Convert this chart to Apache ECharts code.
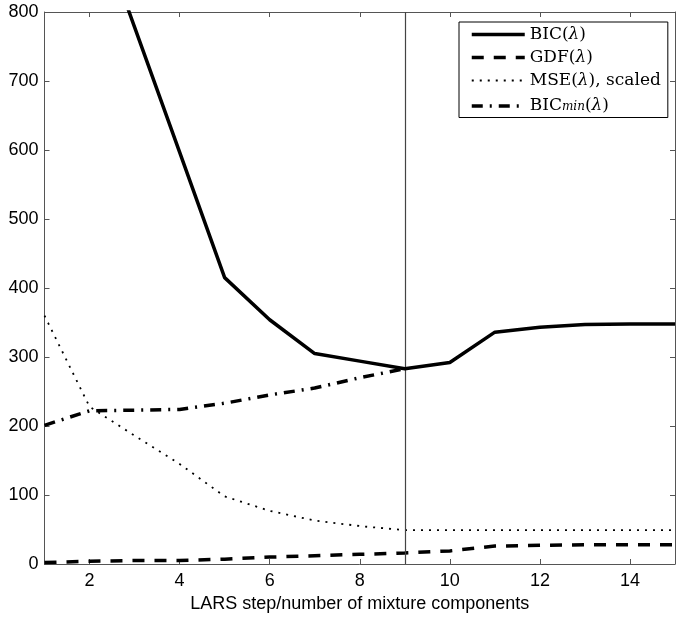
<!DOCTYPE html>
<html>
<head>
<meta charset="utf-8">
<script src="https://cdn.jsdelivr.net/npm/echarts@6/dist/echarts.min.js"></script>
<style>html,body{margin:0;padding:0;background:#fff;}#c{width:685px;height:617px;}</style>
</head>
<body>
<div id="c"></div>
<script>
var steps = [1, 2, 3, 4, 5, 6, 7, 8, 9, 10, 11, 12, 13, 14, 15];
var bic = [1200, 960, 778, 597, 415, 354, 305, 294, 283, 292, 336, 343, 347, 348, 348];
var gdf = [2, 4, 5, 5, 7, 10, 12, 14, 16, 19, 26, 27, 28, 28, 28];
var mse = [360, 228, 186, 145, 98, 77, 63, 55, 49, 49, 49, 49, 49, 49, 49];
var bicMin = [201, 222, 223, 224, 233, 245, 255, 270, 283];
var xTicks = [2, 4, 6, 8, 10, 12, 14];
var chosenStep = 9;
var seriesNames = ['BIC', 'GDF', 'MSE', 'BICmin'];
var legendLabels = {
  'BIC': '{t|BIC(}{i|λ}{t|)}',
  'GDF': '{t|GDF(}{i|λ}{t|)}',
  'MSE': '{t|MSE(}{i|λ}{t|), scaled}',
  'BICmin': '{t|BIC}{s|min}{t|(}{i|λ}{t|)}'
};

function pairs(vals) { return vals.map(function (v, i) { return [steps[i], v]; }); }

var styles = {
  BIC: { color: '#000', width: 3.5, type: 'solid', cap: 'butt' },
  GDF: { color: '#000', width: 3.5, type: [12, 10], cap: 'butt' },
  MSE: { color: '#000', width: 1.8, type: [2, 6], cap: 'butt' },
  BICmin: { color: '#000', width: 3.5, type: [11, 7, 2, 7], cap: 'butt' }
};

var axisColor = '#555';
var chart = echarts.init(document.getElementById('c'));
chart.setOption({
  animation: false,
  backgroundColor: '#fff',
  grid: { left: 44.5, right: 10, top: 12, bottom: 53, containLabel: false, outerBoundsMode: 'none' },
  xAxis: [{
    type: 'value', min: 1, max: 15, interval: 1,
    name: 'LARS step/number of mixture components', nameLocation: 'middle', nameGap: 26,
    nameTextStyle: { fontFamily: 'Liberation Sans', fontSize: 18, color: '#000' },
    axisLine: { show: true, onZero: false, lineStyle: { color: axisColor, width: 1 } },
    axisTick: { show: true, inside: true, length: 5, customValues: xTicks, lineStyle: { color: axisColor } },
    axisLabel: { customValues: xTicks, fontFamily: 'Liberation Sans', fontSize: 18, color: '#000', margin: 8 },
    splitLine: { show: false }
  }, {
    type: 'value', min: 1, max: 15, interval: 1, position: 'top',
    axisLine: { show: true, onZero: false, lineStyle: { color: axisColor, width: 1 } },
    axisTick: { show: true, inside: true, length: 5, customValues: xTicks, lineStyle: { color: axisColor } },
    axisLabel: { show: false },
    splitLine: { show: false }
  }],
  yAxis: [{
    type: 'value', min: 0, max: 800, interval: 100,
    axisLine: { show: true, onZero: false, lineStyle: { color: axisColor, width: 1 } },
    axisTick: { show: true, inside: true, length: 5, lineStyle: { color: axisColor } },
    axisLabel: { fontFamily: 'Liberation Sans', fontSize: 18, color: '#000', margin: 6 },
    splitLine: { show: false }
  }, {
    type: 'value', min: 0, max: 800, interval: 100, position: 'right',
    axisLine: { show: true, onZero: false, lineStyle: { color: axisColor, width: 1 } },
    axisTick: { show: true, inside: true, length: 5, lineStyle: { color: axisColor } },
    axisLabel: { show: false },
    splitLine: { show: false }
  }],
  legend: {
    orient: 'vertical', left: 459, top: 22,
    padding: [4, 7, 3, 11],
    itemWidth: 53, itemHeight: 14, itemGap: 6,
    backgroundColor: '#fff', borderColor: '#000', borderWidth: 1,
    itemStyle: { color: 'rgba(0,0,0,0)', borderColor: 'rgba(0,0,0,0)', borderWidth: 0, opacity: 0 },
    data: seriesNames.map(function (n) {
      return { name: n, lineStyle: styles[n], itemStyle: { opacity: 0, color: 'rgba(0,0,0,0)', borderWidth: 0 } };
    }),
    formatter: function (n) { return legendLabels[n]; },
    textStyle: {
      color: '#000', fontFamily: 'DejaVu Serif', fontSize: 17, lineHeight: 14,
      rich: {
        t: { fontFamily: 'DejaVu Serif', fontSize: 17, lineHeight: 14, color: '#000' },
        i: { fontFamily: 'DejaVu Serif', fontStyle: 'italic', fontSize: 17, lineHeight: 14, color: '#000' },
        s: { fontFamily: 'DejaVu Serif', fontStyle: 'italic', fontSize: 12, lineHeight: 14, color: '#000', verticalAlign: 'bottom', padding: [6, 0, 0, 0] }
      }
    }
  },
  series: [{
    name: 'BIC', type: 'line', data: pairs(bic), symbol: 'none', clip: true,
    lineStyle: styles.BIC,
    itemStyle: { color: '#000' },
    markLine: {
      silent: true, symbol: 'none', label: { show: false },
      lineStyle: { color: '#444', width: 1.2, type: 'solid' },
      data: [{ xAxis: chosenStep }]
    },
    z: 5
  }, {
    name: 'GDF', type: 'line', data: pairs(gdf), symbol: 'none',
    lineStyle: styles.GDF,
    itemStyle: { color: '#000' }
  }, {
    name: 'MSE', type: 'line', data: pairs(mse), symbol: 'none',
    lineStyle: styles.MSE,
    itemStyle: { color: '#000' }
  }, {
    name: 'BICmin', type: 'line', data: pairs(bicMin), symbol: 'none',
    lineStyle: styles.BICmin,
    itemStyle: { color: '#000' }
  }]
});
</script>
</body>
</html>
